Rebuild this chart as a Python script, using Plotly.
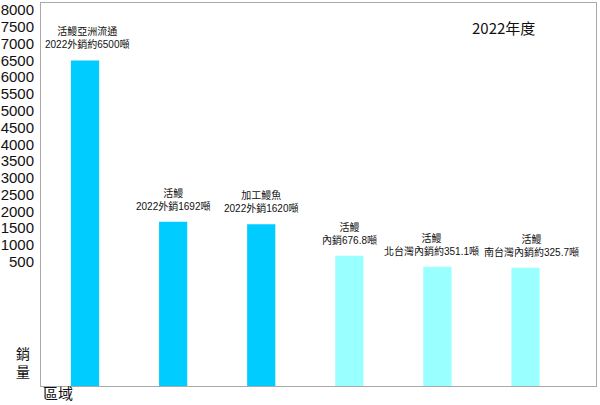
import plotly.graph_objects as go

# ---- data ----
categories = ["活鰻亞洲流通", "活鰻外銷", "加工鰻魚", "活鰻內銷", "北台灣內銷", "南台灣內銷"]
values = [6500, 1692, 1620, 676.8, 351.1, 325.7]
bar_labels = [
    "活鰻亞洲流通<br>2022外銷約6500噸",
    "活鰻<br>2022外銷1692噸",
    "加工鰻魚<br>2022外銷1620噸",
    "活鰻<br>內銷676.8噸",
    "活鰻<br>北台灣內銷約351.1噸",
    "活鰻<br>南台灣內銷約325.7噸",
]
colors = ["#00CCFF", "#00CCFF", "#00CCFF", "#99FFFF", "#99FFFF", "#99FFFF"]
y_ticks = list(range(500, 8001, 500))
y_tick_labels = [str(v) for v in y_ticks]
year_label = "2022年度"
y_title = "銷<br>量"
x_title = "區域"

# ---- layout / style constants ----
Y_MIN, Y_MAX = -3202, 8212
FONT = "Noto Sans CJK TC, Noto Sans, sans-serif"
LABEL_FONT = "Liberation Sans, Noto Sans CJK TC, sans-serif"
TICK_FONT = "Liberation Sans, Arial, sans-serif"
label_xshift = [2, 0, 0, 0, -6, 6]

fig = go.Figure()
fig.add_trace(go.Bar(
    x=categories,
    y=[v - Y_MIN for v in values],
    base=Y_MIN,
    marker=dict(color=colors, line=dict(width=0)),
    width=0.32,
    hoverinfo="skip",
))

for c, v, t, xs in zip(categories, values, bar_labels, label_xshift):
    fig.add_annotation(x=c, y=v, text=t, showarrow=False, yanchor="bottom",
                       yshift=8, xshift=xs,
                       font=dict(size=10, color="#111", family=LABEL_FONT))

fig.add_annotation(xref="paper", yref="paper", x=0.833, y=0.935, text=year_label,
                   showarrow=False, xanchor="center", yanchor="middle",
                   font=dict(size=15, color="#111", family=FONT))
fig.add_annotation(xref="paper", yref="paper", x=-0.0324, y=0.062, text=y_title,
                   showarrow=False, xanchor="center", yanchor="middle",
                   font=dict(size=14, color="#111", family=FONT))
fig.add_annotation(xref="paper", yref="paper", x=0.03, y=-0.0494, text=x_title,
                   showarrow=False, xanchor="center", yanchor="bottom",
                   font=dict(size=15, color="#111", family=FONT))

fig.update_layout(
    width=600, height=405,
    margin=dict(l=40, r=4, t=1, b=19),
    paper_bgcolor="white", plot_bgcolor="white",
    showlegend=False,
    font=dict(family=FONT, color="#111"),
    xaxis=dict(range=[-0.5, 5.8], showticklabels=False, ticks="", showgrid=False,
               zeroline=False, showline=True, linecolor="#aaaaaa", linewidth=1,
               mirror=True, fixedrange=True),
    yaxis=dict(range=[Y_MIN, Y_MAX], tickvals=y_ticks, ticktext=y_tick_labels,
               ticks="", showgrid=False, zeroline=False, showline=True,
               linecolor="#aaaaaa", linewidth=1, mirror=True,
               tickfont=dict(size=15, color="#111", family=TICK_FONT),
               ticklabelstandoff=3, ticklabeloverflow="allow", fixedrange=True),
)

fig.write_html("out.html")
